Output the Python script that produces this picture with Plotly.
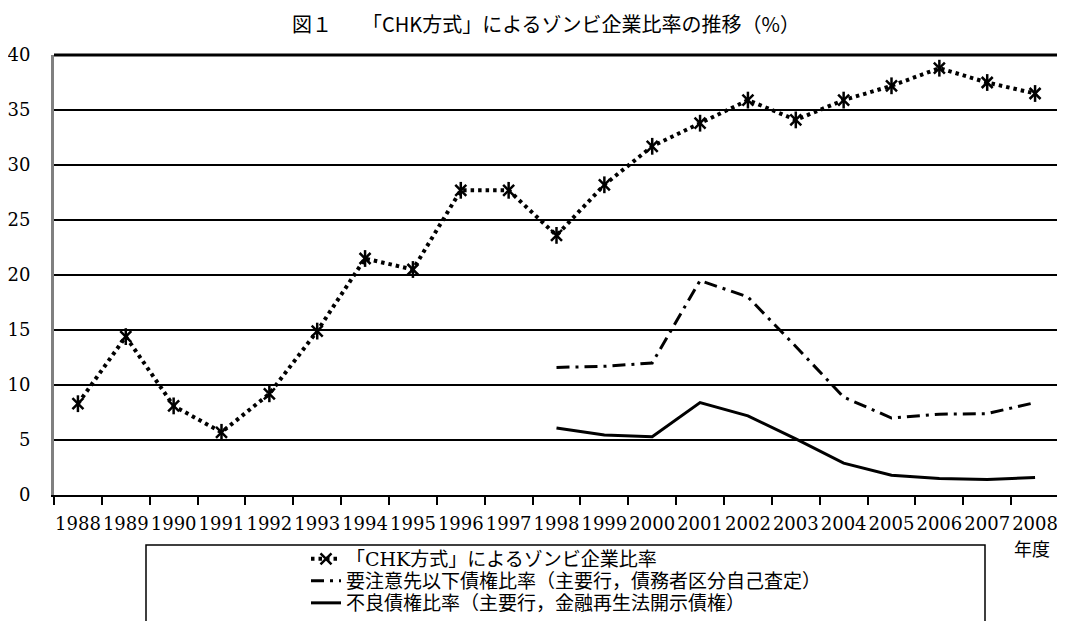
import plotly.graph_objects as go

years = [str(y) for y in range(1988, 2009)]
chk = [8.3, 14.4, 8.1, 5.7, 9.2, 14.9, 21.5, 20.5, 27.7, 27.7, 23.6,
       28.2, 31.7, 33.8, 35.9, 34.1, 35.9, 37.2, 38.8, 37.5, 36.5]
years_bank = [str(y) for y in range(1998, 2009)]
watch_ratio = [11.6, 11.7, 12.0, 19.5, 18.0, 13.5, 8.9, 7.0, 7.35, 7.4, 8.4]
npl_ratio = [6.1, 5.45, 5.3, 8.4, 7.2, 5.1, 2.9, 1.8, 1.5, 1.4, 1.6]
yticks = [0, 5, 10, 15, 20, 25, 30, 35, 40]

names = ["「CHK方式」によるゾンビ企業比率",
         "要注意先以下債権比率（主要行，債務者区分自己査定）",
         "不良債権比率（主要行，金融再生法開示債権）"]

serif = "'DejaVu Serif', 'Noto Sans CJK JP', serif"

# screen geometry of the plot area (page has an 8px body margin)
OFF = 8
FW, FH = 1065 - OFF, 621 - OFF
L, R, T, B = 54, 1059, 55, 495
PW, PH = R - L, B - T


def px(x):
    return (x - L) / PW


def py(y):
    return (B - y) / PH


fig = go.Figure()
fig.add_trace(go.Scatter(
    x=years, y=chk, name=names[0], mode="lines+markers", legend="legend",
    line=dict(color="black", width=4, dash="3.5px,4px"),
    marker=dict(symbol="x-thin-open", size=11, color="black",
                line=dict(color="black", width=2.5)),
))
fig.add_trace(go.Scatter(
    x=years, y=chk, mode="markers", showlegend=False, hoverinfo="skip",
    marker=dict(symbol="line-ns-open", size=12, color="black",
                line=dict(color="black", width=2.5)),
))
fig.add_trace(go.Scatter(
    x=years_bank, y=watch_ratio, name=names[1], mode="lines", legend="legend2",
    line=dict(color="black", width=3, dash="13px,6px,3px,6px"),
))
fig.add_trace(go.Scatter(
    x=years_bank, y=npl_ratio, name=names[2], mode="lines", legend="legend3",
    line=dict(color="black", width=3),
))

leg_common = dict(x=px(306), xanchor="left", yanchor="middle",
                  bgcolor="rgba(0,0,0,0)", borderwidth=0,
                  font=dict(family=serif, size=19, color="black"))

fig.update_layout(
    width=FW, height=FH,
    margin=dict(l=L - OFF, r=FW - (R - OFF), t=T - OFF, b=FH - (B - OFF),
                autoexpand=False),
    paper_bgcolor="white", plot_bgcolor="white",
    title=dict(text="図１　　「CHK方式」によるゾンビ企業比率の推移（%）",
               x=(546 - OFF) / FW, xanchor="center",
               y=1 - (25 - OFF) / FH, yanchor="middle",
               font=dict(family="Noto Sans CJK JP", size=20, color="black")),
    font=dict(family=serif, size=18, color="black"),
    showlegend=True,
    legend=dict(y=py(559), **leg_common),
    legend2=dict(y=py(581), **leg_common),
    legend3=dict(y=py(603), **leg_common),
    xaxis=dict(type="category", categoryorder="array", categoryarray=years,
               range=[-0.5, 20.5], showgrid=False, showline=True,
               linecolor="black", linewidth=2, ticks="outside",
               tickson="boundaries", ticklen=8, tickcolor="black",
               tickwidth=1.5, tickangle=0, ticklabelstandoff=11,
               tickfont=dict(family=serif, size=18, color="black")),
    yaxis=dict(range=[0, 40], tickvals=yticks, showgrid=True,
               gridcolor="black", gridwidth=1.6, zeroline=False,
               showline=True, linecolor="#808080", linewidth=3,
               ticks="", ticklabelstandoff=17,
               tickfont=dict(family=serif, size=18, color="black")),
)

# top and right border of plot area
fig.add_shape(type="line", xref="paper", yref="paper", x0=0, x1=1, y0=1, y1=1,
              line=dict(color="black", width=3))
fig.add_shape(type="line", xref="paper", yref="paper", x0=1, x1=1, y0=0, y1=1,
              line=dict(color="black", width=2.5))
# legend frame
fig.add_shape(type="rect", xref="paper", yref="paper",
              x0=px(146), x1=px(985), y0=py(545), y1=py(640),
              line=dict(color="black", width=1.5))
fig.add_annotation(text="年度", xref="paper", yref="paper",
                   x=px(1032), y=py(549),
                   showarrow=False, xanchor="center", yanchor="middle",
                   font=dict(family=serif, size=18, color="black"))

fig.write_html("out.html")
